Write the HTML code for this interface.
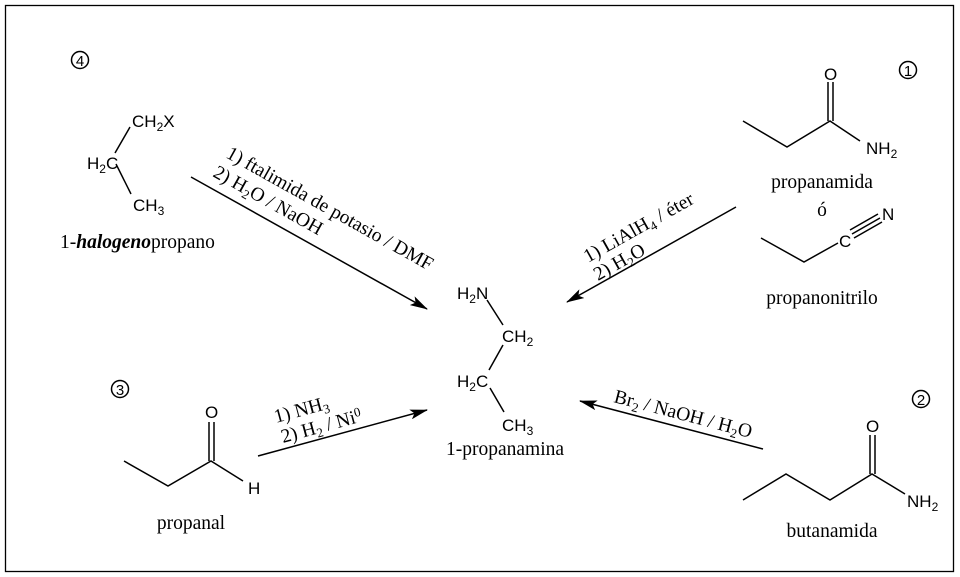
<!DOCTYPE html>
<html><head><meta charset="utf-8"><style>
html,body{margin:0;padding:0;background:#fff;}
svg{display:block;}
.s{font-family:"Liberation Sans",sans-serif;font-size:17px;}
.r{font-family:"Liberation Serif",serif;font-size:19.5px;}
.c{font-family:"Liberation Sans",sans-serif;font-size:15px;}
</style></head><body>
<svg width="960" height="577" viewBox="0 0 960 577" xmlns="http://www.w3.org/2000/svg">
<defs><marker id="a" markerWidth="18" markerHeight="10" refX="17" refY="5" orient="auto" markerUnits="userSpaceOnUse"><path d="M0,0 L18,5 L0,10 L4,5 Z" fill="#000"/></marker></defs>
<rect x="5.5" y="5.5" width="948" height="566" fill="none" stroke="#000" stroke-width="1.3"/>
<g stroke="#000" stroke-width="1.5" fill="none">
<line x1="191" y1="177" x2="427" y2="309" marker-end="url(#a)"/>
<line x1="736" y1="207" x2="567" y2="302" marker-end="url(#a)"/>
<line x1="258" y1="456" x2="427" y2="410" marker-end="url(#a)"/>
<line x1="763" y1="449" x2="580" y2="401" marker-end="url(#a)"/>
<circle cx="80" cy="60" r="8.5"/><circle cx="908" cy="70" r="8.5"/><circle cx="120" cy="389" r="8.5"/><circle cx="921" cy="399" r="8.5"/>
<line x1="130" y1="127" x2="115" y2="153"/><line x1="116" y1="164" x2="131" y2="194"/>
<polyline points="743,121 787,147 830,121 860,141"/>
<line x1="828" y1="121" x2="828" y2="82"/><line x1="833" y1="121" x2="833" y2="82"/>
<polyline points="761,238 804,262 838,243"/>
<line x1="852" y1="234" x2="880" y2="218"/><line x1="854" y1="238" x2="882" y2="222"/><line x1="850" y1="230" x2="878" y2="214"/>
<line x1="487" y1="300" x2="503" y2="325"/><line x1="503" y1="345" x2="489" y2="370"/><line x1="490" y1="388" x2="504" y2="412"/>
<polyline points="124,461 168,486 211,461 243,481"/>
<line x1="209" y1="461" x2="209" y2="422"/><line x1="214" y1="461" x2="214" y2="422"/>
<polyline points="743,500 786,474 830,500 872,474 905,494"/>
<line x1="870" y1="474" x2="870" y2="435"/><line x1="875" y1="474" x2="875" y2="435"/>
</g>
<g fill="#000">
<text class="c" x="80" y="66" text-anchor="middle">4</text>
<text class="c" x="908" y="76" text-anchor="middle">1</text>
<text class="c" x="120" y="395" text-anchor="middle">3</text>
<text class="c" x="921" y="405" text-anchor="middle">2</text>
<text class="s" x="132" y="127">CH<tspan font-size="12" dy="4">2</tspan><tspan dy="-4">X</tspan></text>
<text class="s" x="87" y="169">H<tspan font-size="12" dy="4">2</tspan><tspan dy="-4">C</tspan></text>
<text class="s" x="133" y="211">CH<tspan font-size="12" dy="4">3</tspan></text>
<text class="r" x="60" y="248">1-<tspan font-weight="bold" font-style="italic">halogeno</tspan>propano</text>
<text class="s" x="824" y="80">O</text>
<text class="s" x="866" y="154">NH<tspan font-size="12" dy="4">2</tspan></text>
<text class="r" x="822" y="188" text-anchor="middle">propanamida</text>
<text class="r" x="822" y="216" text-anchor="middle">ó</text>
<text class="s" x="839" y="247">C</text>
<text class="s" x="882" y="220">N</text>
<text class="r" x="822" y="304" text-anchor="middle">propanonitrilo</text>
<text class="s" x="457" y="299">H<tspan font-size="12" dy="4">2</tspan><tspan dy="-4">N</tspan></text>
<text class="s" x="502" y="342">CH<tspan font-size="12" dy="4">2</tspan></text>
<text class="s" x="457" y="387">H<tspan font-size="12" dy="4">2</tspan><tspan dy="-4">C</tspan></text>
<text class="s" x="502" y="431">CH<tspan font-size="12" dy="4">3</tspan></text>
<text class="r" x="446" y="455">1-propanamina</text>
<text class="s" x="205" y="418">O</text>
<text class="s" x="248" y="494">H</text>
<text class="r" x="191" y="529" text-anchor="middle">propanal</text>
<text class="s" x="866" y="432">O</text>
<text class="s" x="907" y="507">NH<tspan font-size="12" dy="4">2</tspan></text>
<text class="r" x="832" y="537" text-anchor="middle">butanamida</text>
<text class="r" transform="translate(225,157) rotate(29.2)">1) ftalimida de potasio / DMF</text>
<text class="r" transform="translate(212,176) rotate(29.2)">2) H<tspan font-size="13" dy="4">2</tspan><tspan dy="-4">O / NaOH</tspan></text>
<text class="r" transform="translate(588,263) rotate(-29.3)">1) LiAlH<tspan font-size="13" dy="4">4</tspan><tspan dy="-4"> / éter</tspan></text>
<text class="r" transform="translate(598,281) rotate(-29.3)">2) H<tspan font-size="13" dy="4">2</tspan><tspan dy="-4">O</tspan></text>
<text class="r" transform="translate(276,423) rotate(-15.2)">1) NH<tspan font-size="13" dy="4">3</tspan></text>
<text class="r" transform="translate(283,443) rotate(-15.2)">2) H<tspan font-size="13" dy="4">2</tspan><tspan dy="-4"> / Ni</tspan><tspan font-size="13" dy="-6">0</tspan></text>
<text class="r" transform="translate(613,402) rotate(14.7)">Br<tspan font-size="13" dy="4">2</tspan><tspan dy="-4"> / NaOH / H</tspan><tspan font-size="13" dy="4">2</tspan><tspan dy="-4">O</tspan></text>
</g>
</svg>
</body></html>
